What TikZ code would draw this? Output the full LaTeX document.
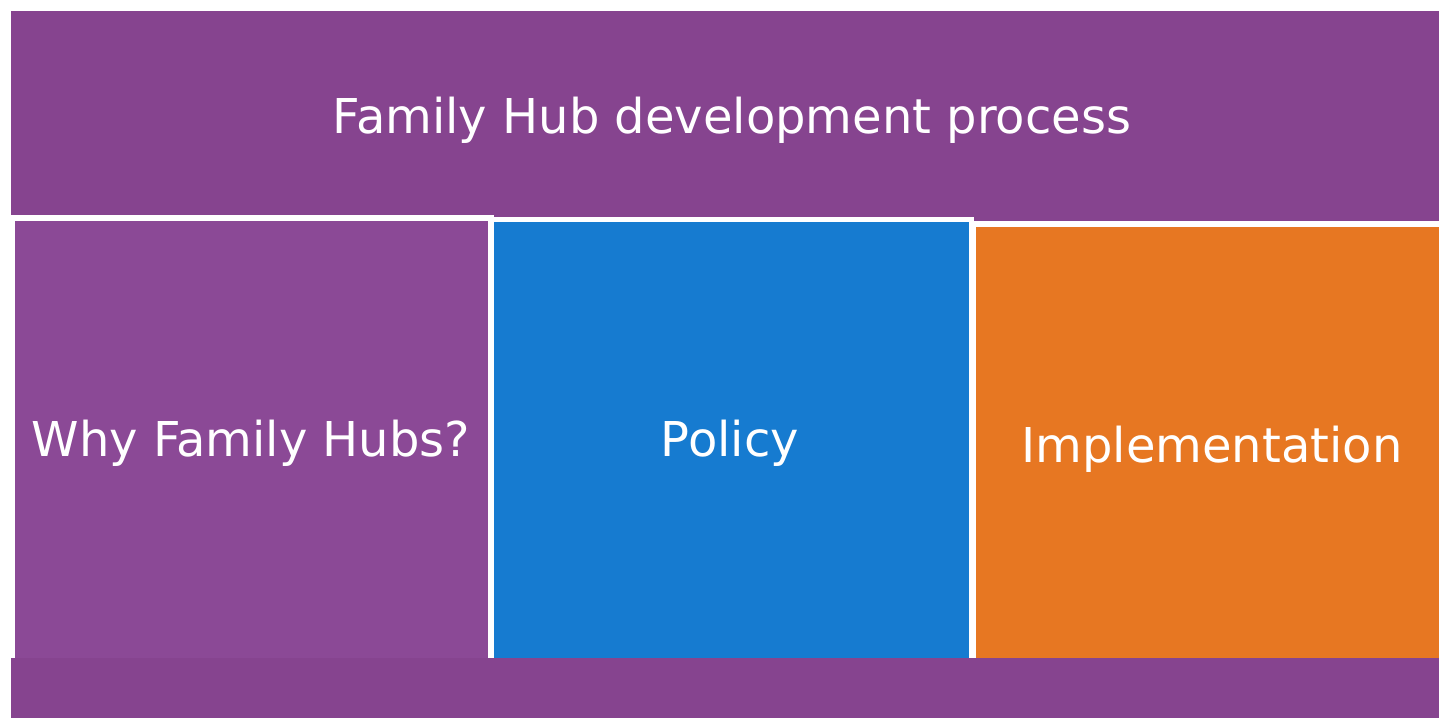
\documentclass[tikz,border=0pt]{standalone}
\usepackage{fontspec}
\setmainfont{DejaVu Sans}
\definecolor{bandpurple}{RGB}{134,68,143}
\definecolor{boxpurple}{RGB}{139,73,150}
\definecolor{boxblue}{RGB}{22,123,208}
\definecolor{boxorange}{RGB}{231,119,34}
\tikzset{
  colbox/.style={draw=white, inner sep=0pt, outer sep=0pt, anchor=north west},
  band/.style={fill=bandpurple, draw=none, inner sep=0pt, outer sep=0pt, anchor=north west},
  lbl/.style={text=white, font=\fontsize{48}{56}\selectfont, inner sep=0pt, anchor=base}
}
\begin{document}
\begin{tikzpicture}[x=1pt,y=-1pt]
\useasboundingbox (0,0) rectangle (1439,717);
\clip (0,0) rectangle (1439,717);
\fill[white] (0,0) rectangle (1439,717);
% top band
\node[band, minimum width=1440pt, minimum height=210pt] (top) at (11,11) {};
% columns
\node[colbox, fill=boxpurple, line width=6pt, minimum width=479.5pt, minimum height=480pt] (why) at (11.5,217.5) {};
\node[colbox, fill=boxblue, line width=5pt, minimum width=479.5pt, minimum height=480pt] (policy) at (491.5,219) {};
\node[colbox, fill=boxorange, line width=5pt, minimum width=480pt, minimum height=480pt] (impl) at (973.5,224.2) {};
% bottom band
\node[band, minimum width=1440pt, minimum height=70pt] (bottom) at (11,658) {};
% labels
\node[lbl] (ttl) at (732,133) {Family Hub development process};
\node[lbl] (whyt) at (251,456) {Why Family Hubs?};
\node[lbl] (polt) at (730,456) {Policy};
\node[lbl] (implt) at (1212,462) {Implementation};
\end{tikzpicture}
\end{document}
